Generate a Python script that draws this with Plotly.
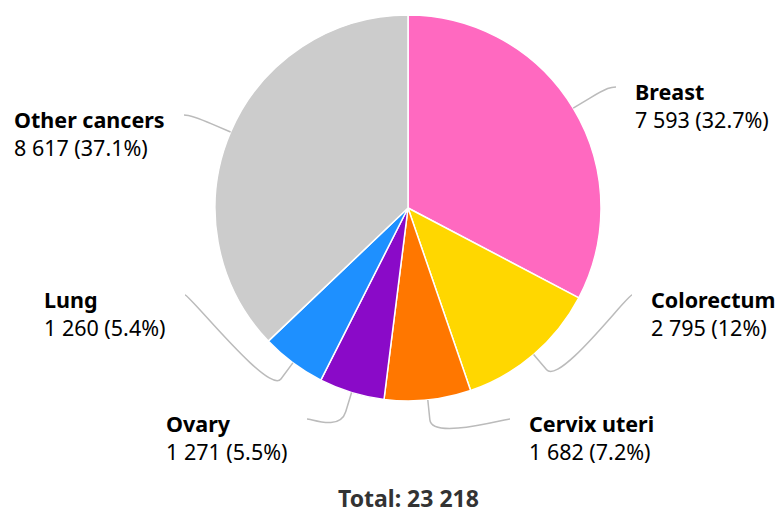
import math
import plotly.graph_objects as go

# ---- data ----
categories = ["Breast", "Colorectum", "Cervix uteri", "Ovary", "Lung", "Other cancers"]
values = [7593, 2795, 1682, 1271, 1260, 8617]
colors = ["#FF69C0", "#FFD700", "#FF7700", "#8A0AC8", "#1E90FF", "#CCCCCC"]

# ---- layout / style ----
W, H = 776, 513
CX, CY, R = 408, 208, 193            # pie centre and radius (pixels)
FONT = "Noto Sans"
FS = 21.5
TOTAL_FS = 23
PAD = 3                              # annotation inner padding
# label placement: side, block edge x (px), first-line centre y, second-line centre y
label_place = [
    ("right", 636, 92, 118),
    ("right", 652, 300, 326),
    ("right", 530, 424, 451),
    ("left", 287, 424, 451),
    ("left", 165, 300, 326),
    ("left", 164, 120, 146),
]

total = sum(values)


def fmt_int(v):
    return f"{v:,}".replace(",", " ")


def fmt_pct(v):
    p = round(v / total * 100, 1)
    s = f"{p:.1f}"
    if s.endswith(".0"):
        s = s[:-2]
    return s + "%"


def px(x):
    return x / W


def py(y):
    return 1 - y / H


fig = go.Figure()
fig.add_trace(go.Pie(
    labels=categories,
    values=values,
    marker=dict(colors=colors, line=dict(color="white", width=1.5)),
    sort=False,
    direction="clockwise",
    rotation=0,
    textinfo="none",
    hoverinfo="label+value+percent",
    domain=dict(x=[px(CX - R), px(CX + R)], y=[py(CY + R), py(CY - R)]),
    showlegend=False,
))

shapes = []
annotations = []
cum = 0
for cat, v, (side, ex, ly1, ly2) in zip(categories, values, label_place):
    mid = (cum + v / 2) / total * 2 * math.pi
    cum += v
    dx, dy = math.sin(mid), -math.cos(mid)
    tx, ty = CX + R * dx, CY + R * dy                  # touching slice
    bx, by = CX + (R + 20) * dx, CY + (R + 20) * dy    # break point
    if side == "right":
        lx = ex - 20
        c1x = lx - 5
    else:
        lx = ex + 20
        c1x = lx + 5
    lyy = ly1 - 5
    c2x, c2y = 2 * bx - tx, 2 * by - ty
    path = (f"M {px(lx)} {py(lyy)} C {px(c1x)} {py(lyy)} {px(c2x)} {py(c2y)} "
            f"{px(bx)} {py(by)} L {px(tx)} {py(ty)}")
    shapes.append(dict(type="path", path=path, xref="paper", yref="paper",
                       line=dict(color="#BBBBBB", width=1.5)))
    value_text = f"{fmt_int(v)} ({fmt_pct(v)})"
    ax = ex - PAD if side == "right" else ex + PAD
    annotations.append(dict(
        x=px(ax), y=py((ly1 + ly2) / 2), xref="paper", yref="paper",
        xanchor="left" if side == "right" else "right", yanchor="middle",
        align="left", showarrow=False,
        text=f"<b>{cat}</b><br>{value_text}",
        font=dict(family=FONT, size=FS, color="#000000"),
    ))

annotations.append(dict(
    x=px(CX), y=py(498), xref="paper", yref="paper",
    xanchor="center", yanchor="middle", showarrow=False, borderpad=0,
    text=f"<b>Total: {fmt_int(total)}</b>",
    font=dict(family=FONT, size=TOTAL_FS, color="#333333"),
))

fig.update_layout(
    width=W, height=H,
    margin=dict(l=0, r=0, t=0, b=0),
    paper_bgcolor="white", plot_bgcolor="white",
    shapes=shapes, annotations=annotations,
    font=dict(family=FONT),
)

fig.write_html("out.html", config={"displayModeBar": False},
               post_script="document.body.style.margin='0';")
